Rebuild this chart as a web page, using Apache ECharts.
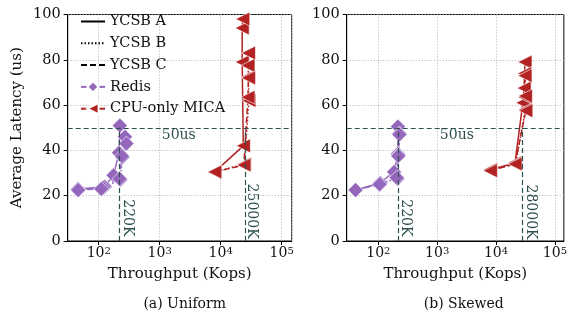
<!DOCTYPE html>
<html>
<head>
<meta charset="utf-8">
<script src="https://cdn.jsdelivr.net/npm/echarts@6/dist/echarts.min.js"></script>
<style>
  html, body { margin: 0; padding: 0; background: #fff; }
  #main { width: 570px; height: 320px; }
</style>
</head>
<body>
<div id="main"></div>
<script>
const FONT = 'DejaVu Serif';
const PURPLE = '#9467bd';
const RED = '#b22222';
const ANNOT = '#2f4f4f';

const panelTitles = ['(a) Uniform', '(b) Skewed'];
const legendNames = ['YCSB A', 'YCSB B', 'YCSB C', 'Redis', 'CPU-only MICA'];
const workloadLineTypes = ['solid', [1.5, 2], [6, 3]];
const yTicks = [0, 20, 40, 60, 80, 100];

// [throughput (Kops), average latency (us)]
const redisUniformA = [[46, 23], [125, 24], [175, 29], [215, 39], [222, 51]];
const redisUniformB = [[46, 22.5], [118, 23.5], [225, 27], [245, 37], [270, 46]];
const redisUniformC = [[46, 22.5], [110, 23], [220, 27.5], [240, 37.5], [285, 43]];
const micaUniformA = [[8000, 30.5], [23500, 42], [22500, 79], [22500, 94], [23000, 98]];
const micaUniformB = [[8000, 30.5], [24500, 34], [29000, 62], [28500, 72.5], [28000, 77.5]];
const micaUniformC = [[8000, 30.5], [24000, 33.5], [28000, 63.5], [28500, 72], [28500, 83]];

const redisSkewedA = [[41, 22.5], [105, 25.5], [185, 30.5], [215, 38.5], [215, 50.5]];
const redisSkewedB = [[41, 22.5], [108, 25.5], [210, 27.5], [220, 38], [228, 47.5]];
const redisSkewedC = [[41, 22.5], [105, 25], [205, 28], [218, 37.5], [228, 47]];
const micaSkewedA = [[8000, 31.5], [21000, 34.5], [28500, 61], [30000, 67.5], [31000, 79]];
const micaSkewedB = [[8000, 31.5], [21500, 34], [31500, 58], [31000, 63.5], [30500, 74]];
const micaSkewedC = [[8000, 31], [21000, 34], [32000, 57.5], [31500, 64], [31000, 73]];

const latencySlo = 50;
const redisPeak = [220, 220];
const micaPeak = [25000, 28000];
const redisPeakText = ['220K', '220K'];
const micaPeakText = ['25000K', '28000K'];
// where the rotated peak labels and the "50us" tag sit
const redisPeakLabelAt = [[297, 10.2], [286, 10.2]];
const micaPeakLabelAt = [[32000, 13.2], [38000, 12.8]];
const sloLabelAt = [[1080, 46.8], [1110, 46.8]];

const gridLefts = [67.7, 346.7];
const xMins = [31, 29];
const xMaxs = [146000, 142000];

let chart = echarts.init(document.getElementById('main'));

function curve(name, data, color, symbol, lineType, g) {
    return {
        name: name,
        type: 'line',
        xAxisIndex: g,
        yAxisIndex: g,
        data: data,
        symbol: symbol,
        symbolSize: symbol === 'diamond' ? 15 : 14,
        symbolRotate: symbol === 'triangle' ? 90 : 0,
        lineStyle: { color: color, width: 1.5, type: lineType },
        itemStyle: { color: color, borderColor: '#fff', borderWidth: 0.6 },
        animation: false
    };
}

function annotations(g) {
    return {
        name: 'annot' + g,
        type: 'line',
        xAxisIndex: g,
        yAxisIndex: g,
        data: [],
        silent: true,
        animation: false,
        markLine: {
            silent: true,
            symbol: ['none', 'none'],
            label: { show: false },
            lineStyle: { color: ANNOT, type: [5, 3], width: 1.2 },
            data: [
                { yAxis: latencySlo },
                [{ coord: [redisPeak[g], 0] }, { coord: [redisPeak[g], latencySlo] }],
                [{ coord: [micaPeak[g], 0] }, { coord: [micaPeak[g], latencySlo] }]
            ]
        },
        markPoint: {
            silent: true,
            symbol: 'circle',
            symbolSize: 0,
            label: { show: true, fontFamily: FONT, fontSize: 14, color: ANNOT },
            data: [
                { coord: sloLabelAt[g], label: { formatter: '50us', align: 'left' } },
                { coord: redisPeakLabelAt[g], label: { formatter: redisPeakText[g], rotate: -90 } },
                { coord: micaPeakLabelAt[g], label: { formatter: micaPeakText[g], rotate: -90 } }
            ]
        }
    };
}

function xAxisFor(g) {
    return {
        type: 'log',
        logBase: 10,
        gridIndex: g,
        min: xMins[g],
        max: xMaxs[g],
        name: 'Throughput (Kops)',
        nameLocation: 'middle',
        nameGap: 26,
        nameTextStyle: { fontFamily: FONT, fontSize: 15, color: '#111' },
        axisLine: { show: true, onZero: false, lineStyle: { color: '#000', width: 1 } },
        axisTick: { show: true, length: 4, lineStyle: { color: '#000' } },
        axisLabel: {
            margin: 5,
            showMinLabel: false,
            showMaxLabel: false,
            formatter: function (v) {
                let e = Math.log10(v);
                if (Math.abs(e - Math.round(e)) > 1e-6) return '';
                return '{b|10}{e|' + Math.round(e) + '}';
            },
            rich: {
                b: { fontFamily: FONT, fontSize: 14, color: '#111' },
                e: { fontFamily: FONT, fontSize: 10, color: '#111', verticalAlign: 'top' }
            }
        },
        splitLine: { show: true, lineStyle: { color: '#b0b0b0', type: [1, 2], width: 1 } }
    };
}

function yAxisFor(g) {
    return {
        type: 'value',
        gridIndex: g,
        min: yTicks[0],
        max: yTicks[yTicks.length - 1],
        interval: yTicks[1] - yTicks[0],
        name: g === 0 ? 'Average Latency (us)' : '',
        nameLocation: 'middle',
        nameGap: 43,
        nameTextStyle: { fontFamily: FONT, fontSize: 15, color: '#111' },
        axisLine: { show: true, lineStyle: { color: '#000', width: 1 } },
        axisTick: { show: true, length: 4, lineStyle: { color: '#000' } },
        axisLabel: { fontFamily: FONT, fontSize: 14.5, color: '#111', margin: 7 },
        splitLine: { show: true, lineStyle: { color: '#b0b0b0', type: [1, 2], width: 1 } }
    };
}

// legend-only series
let legendSeries = [0, 1, 2].map(function (i) {
    return {
        name: legendNames[i], type: 'line', data: [], symbol: 'none',
        lineStyle: { color: '#000', width: 1.5, type: workloadLineTypes[i] },
        itemStyle: { color: '#000', opacity: 0 }
    };
});
legendSeries.push(curve(legendNames[3], [], PURPLE, 'diamond', 'solid', 0));
legendSeries.push(curve(legendNames[4], [], RED, 'triangle', 'solid', 0));

let dataSeries = [
    [redisUniformA, redisUniformB, redisUniformC, micaUniformA, micaUniformB, micaUniformC],
    [redisSkewedA, redisSkewedB, redisSkewedC, micaSkewedA, micaSkewedB, micaSkewedC]
];

let series = legendSeries.slice();
for (let g = 0; g < 2; g++) {
    series.push(annotations(g));
    for (let k = 0; k < 3; k++) {
        series.push(curve('redis-' + g + '-' + k, dataSeries[g][k], PURPLE, 'diamond', workloadLineTypes[k], g));
    }
    for (let k = 0; k < 3; k++) {
        series.push(curve('mica-' + g + '-' + k, dataSeries[g][k + 3], RED, 'triangle', workloadLineTypes[k], g));
    }
}

let options = {
    animation: false,
    backgroundColor: '#fff',
    title: [0, 1].map(function (g) {
        return {
            text: panelTitles[g],
            left: gridLefts[g] + 112,
            top: 292,
            textAlign: 'center',
            textStyle: { fontFamily: FONT, fontSize: 14, fontWeight: 'normal', color: '#111' }
        };
    }),
    legend: {
        orient: 'vertical',
        left: 80,
        top: 14,
        padding: 0,
        itemWidth: 24,
        itemHeight: 14,
        itemGap: 6.8,
        selectedMode: false,
        textStyle: { fontFamily: FONT, fontSize: 14.5, color: '#111' },
        data: legendNames
    },
    grid: [0, 1].map(function (g) {
        return {
            left: gridLefts[g], top: 14.5, width: 224, height: 226.5,
            show: true, borderColor: '#000', borderWidth: 1, backgroundColor: 'transparent'
        };
    }),
    xAxis: [xAxisFor(0), xAxisFor(1)],
    yAxis: [yAxisFor(0), yAxisFor(1)],
    series: series
};

chart.setOption(options);
</script>
</body>
</html>
